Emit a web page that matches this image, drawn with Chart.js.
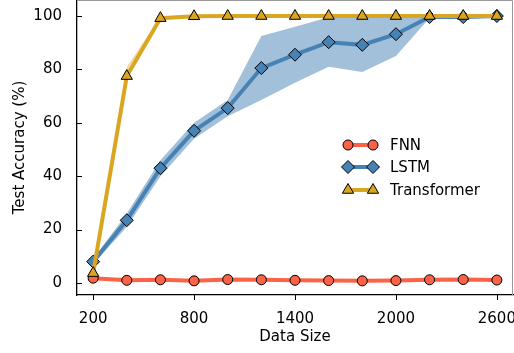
<!DOCTYPE html>
<html>
<head>
<meta charset="utf-8">
<script src="https://cdn.jsdelivr.net/npm/chart.js@4"></script>
<style>
  html, body { margin: 0; padding: 0; background: #fff; }
  #wrap { width: 514px; height: 353px; }
</style>
</head>
<body>
<div id="wrap"><canvas id="accChart" width="514" height="353"></canvas></div>
<script>
const dataSizes = [200, 400, 600, 800, 1000, 1200, 1400, 1600, 1800, 2000, 2200, 2400, 2600];
const fnnAcc = [1.8, 1.0, 1.2, 0.8, 1.3, 1.2, 1.0, 0.9, 0.8, 0.9, 1.2, 1.3, 1.1];
const fnnLow = [1.4, 0.7, 0.9, 0.5, 1.0, 0.9, 0.7, 0.6, 0.5, 0.6, 0.9, 1.0, 0.8];
const fnnHigh = [2.2, 1.3, 1.5, 1.1, 1.6, 1.5, 1.3, 1.2, 1.1, 1.2, 1.5, 1.6, 1.4];
const lstmAcc = [8, 23.5, 43, 57, 65.5, 80.5, 85.5, 90.2, 89.2, 93.2, 99.6, 99.6, 100];
const lstmLow = [7, 21, 40, 54, 62.5, 68.5, 75, 81, 79, 85, 99.3, 99.3, 99.7];
const lstmHigh = [9, 26, 46, 60, 68.5, 92.5, 96, 99.5, 100, 100.2, 99.9, 100, 100.3];
const trAcc = [3.7, 77.5, 99.2, 99.9, 100, 100, 100, 100, 100, 100, 100, 100, 100];
const trLow = [3, 76.5, 98.8, 99.7, 99.8, 99.8, 99.8, 99.8, 99.8, 99.8, 99.8, 99.8, 99.8];
const trHigh = [4.4, 81, 99.6, 100.1, 100.2, 100.2, 100.2, 100.2, 100.2, 100.2, 100.2, 100.2, 100.2];
const xTicks = [200, 800, 1400, 2000, 2600];
const yTicks = [0, 20, 40, 60, 80, 100];

const FONT = "'DejaVu Sans', sans-serif";
const colors = { fnn: "#fa6347", lstm: "#4682b4", tr: "#daa520" };

function pts(ys) {
    return dataSizes.map((x, i) => ({ x: x, y: ys[i] }));
}

function band(lo, hi, fillColor, order) {
    return [
        { data: pts(hi), borderWidth: 0, pointRadius: 0, fill: false, order: order, showLine: true },
        { data: pts(lo), borderWidth: 0, pointRadius: 0, fill: "-1", backgroundColor: fillColor, order: order, showLine: true }
    ];
}

function line(label, ys, color, style, radius, order) {
    return {
        label: label, data: pts(ys), borderColor: color, backgroundColor: color,
        borderWidth: 4, pointStyle: style, pointRadius: radius, pointBorderColor: "#000",
        pointBorderWidth: 1, pointBackgroundColor: color, fill: false, order: order, showLine: true,
        clip: false
    };
}

const datasets = [
    ...band(fnnLow, fnnHigh, "rgba(250,99,71,0.4)", 6),
    line("FNN", fnnAcc, colors.fnn, "circle", 5, 5),
    ...band(lstmLow, lstmHigh, "rgba(70,130,180,0.5)", 4),
    line("LSTM", lstmAcc, colors.lstm, "rectRot", 6.5, 3),
    ...band(trLow, trHigh, "rgba(218,165,32,0.4)", 2),
    line("Transformer", trAcc, colors.tr, "triangle", 6.5, 1)
];

const frame = {
    id: "frame",
    afterDraw(chart) {
        const ctx = chart.ctx, a = chart.chartArea;
        const xs = chart.scales.x, ys = chart.scales.y;
        ctx.save();
        // light top/right spines
        ctx.strokeStyle = "#999";
        ctx.lineWidth = 1;
        ctx.beginPath();
        ctx.moveTo(a.left, a.top + 0.5);
        ctx.lineTo(a.right - 0.5, a.top + 0.5);
        ctx.lineTo(a.right - 0.5, a.bottom);
        ctx.stroke();
        // tick marks: y inward, x outward
        ctx.strokeStyle = "#000";
        ctx.beginPath();
        yTicks.forEach(v => {
            const p = Math.round(ys.getPixelForValue(v)) + 0.5;
            ctx.moveTo(a.left, p);
            ctx.lineTo(a.left + 5, p);
        });
        xTicks.forEach(v => {
            const p = Math.round(xs.getPixelForValue(v)) + 0.5;
            ctx.moveTo(p, a.bottom);
            ctx.lineTo(p, a.bottom + 5);
        });
        ctx.stroke();

        // legend
        const items = [
            ["FNN", colors.fnn, "circle", 5],
            ["LSTM", colors.lstm, "rectRot", 6.5],
            ["Transformer", colors.tr, "triangle", 6.5]
        ];
        const x0 = 348, x1 = 373, tx = 390;
        const rows = [145, 167, 190];
        ctx.font = "15px " + FONT;
        ctx.textBaseline = "middle";
        items.forEach((it, i) => {
            const y = rows[i];
            ctx.strokeStyle = it[1];
            ctx.lineWidth = 4;
            ctx.beginPath();
            ctx.moveTo(x0, y);
            ctx.lineTo(x1, y);
            ctx.stroke();
            [x0, x1].forEach(px => {
                ctx.fillStyle = it[1];
                ctx.strokeStyle = "#000";
                ctx.lineWidth = 1;
                Chart.helpers.drawPoint(ctx, { pointStyle: it[2], radius: it[3], borderWidth: 1 }, px, y);
            });
            ctx.fillStyle = "#000";
            ctx.fillText(it[0], tx, y + 1);
        });
        ctx.restore();
    }
};

const tickFont = { family: FONT, size: 15 };

new Chart(document.getElementById("accChart"), {
    type: "scatter",
    data: { datasets: datasets },
    options: {
        responsive: false,
        animation: false,
        layout: { autoPadding: false, padding: { top: 0, right: 1, left: 0, bottom: 0 } },
        plugins: { legend: { display: false }, tooltip: { enabled: false } },
        elements: { line: { tension: 0 } },
        scales: {
            x: {
                type: "linear", min: 104, max: 2696,
                grid: { display: false },
                border: { display: true, color: "#000", width: 1.3 },
                ticks: { color: "#000", font: tickFont, padding: 7, maxRotation: 0, callback: v => String(v) },
                afterBuildTicks: s => { s.ticks = xTicks.map(v => ({ value: v })); },
                afterFit: s => { s.height = 58; s.paddingLeft = 0; s.paddingRight = 0; },
                title: { display: true, text: "Data Size", color: "#000", font: tickFont, padding: { top: 4, bottom: 7 } }
            },
            y: {
                type: "linear", min: -4.5, max: 106,
                grid: { display: false },
                border: { display: true, color: "#000", width: 1.3 },
                ticks: { color: "#000", font: tickFont, padding: 7, callback: v => String(v) },
                afterBuildTicks: s => { s.ticks = yTicks.map(v => ({ value: v })); },
                afterFit: s => { s.width = 77; s.paddingTop = 0; s.paddingBottom = 0; },
                title: { display: true, text: "Test Accuracy (%)", color: "#000", font: tickFont, padding: { top: 11, bottom: 4 } }
            }
        }
    },
    plugins: [frame]
});
</script>
</body>
</html>
